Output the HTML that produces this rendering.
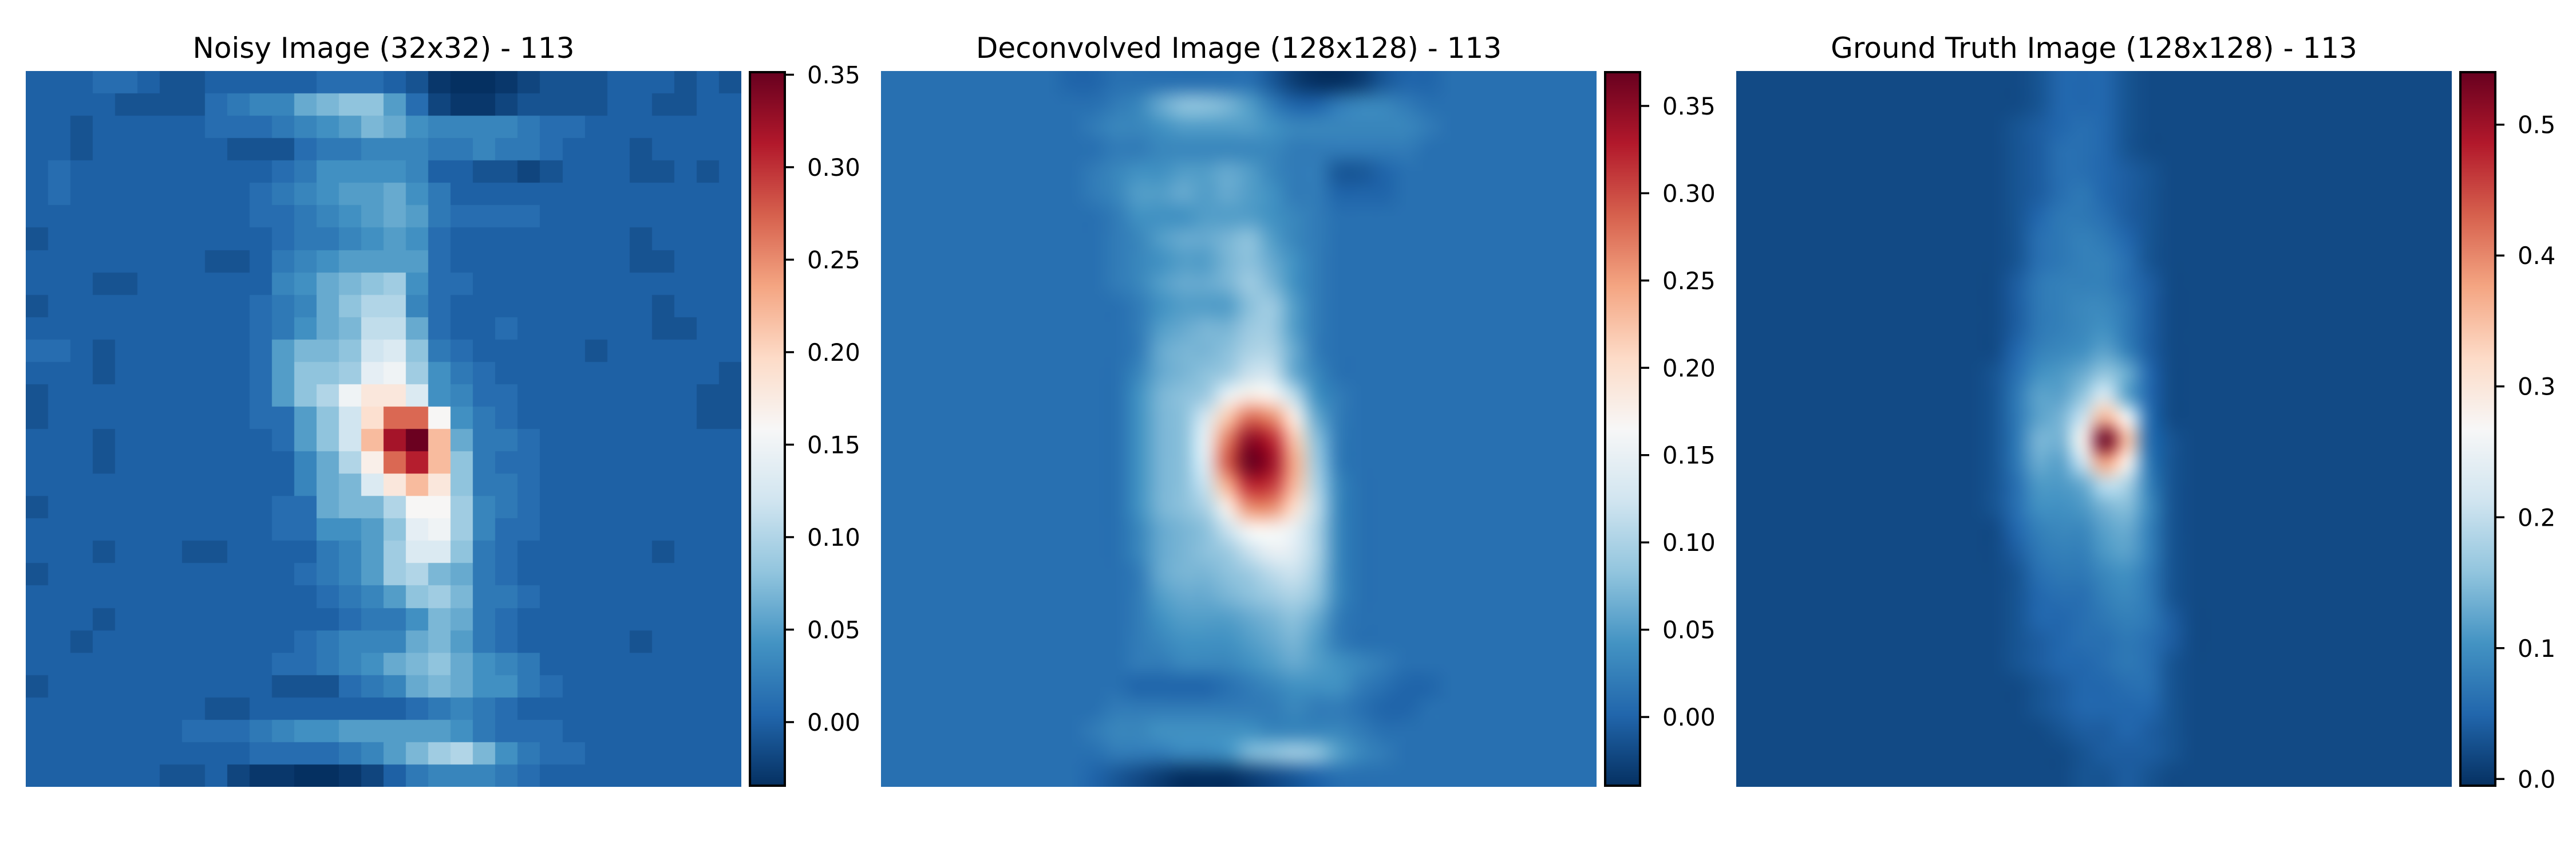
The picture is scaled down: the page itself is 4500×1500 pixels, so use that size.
<!DOCTYPE html>
<html><head><meta charset="utf-8">
<style>
html,body{margin:0;padding:0;background:#fff;}
#fig{position:relative;width:4500px;height:1500px;overflow:hidden;background:#fff;}
canvas{position:absolute;display:block;}
svg{position:absolute;left:0;top:0;}
text{font-family:"DejaVu Sans","Liberation Sans",sans-serif;fill:#000;}
</style></head>
<body>
<div id="fig">
<canvas id="img0" width="1250" height="1250" style="left:45px;top:124px"></canvas>
<canvas id="img1" width="1250" height="1250" style="left:1539px;top:124px"></canvas>
<canvas id="img2" width="1250" height="1250" style="left:3033px;top:124px"></canvas>
<canvas id="cb0" width="65" height="1250" style="left:1308px;top:124px"></canvas>
<canvas id="cb1" width="65" height="1250" style="left:2802px;top:124px"></canvas>
<canvas id="cb2" width="65" height="1250" style="left:4296px;top:124px"></canvas>
<svg id="ov" width="4500" height="1500">
<text x="670" y="101" font-size="50" text-anchor="middle">Noisy Image (32x32) - 113</text>
<text x="2164" y="101" font-size="50" text-anchor="middle">Deconvolved Image (128x128) - 113</text>
<text x="3658" y="101" font-size="50" text-anchor="middle">Ground Truth Image (128x128) - 113</text>
</svg>
</div>
<script>
// Encoded heatmap rows: value = (charCode - 48) * 0.01 - 0.04
const noisyRows = [
"4445543344444555" + "4310012333444343",
"4444333356 77:;<<".replace(" ","").slice(0,16) + "9521123333443344",
"443444445556789;" + ":877776554444444",
"4434444443335667" + "7766766544434444",
"4544444444456888" + "8744332344433434",
"4544444444567899" + ":864444444444444",
"4444444444556789" + ":965555444444444",
"3444444444456678" + "9854444444434444",
"4444444433467899" + "9954444444433444",
"4443344444478:;<" + "=855444444444444",
"344444444456 7:<>".replace(" ","").slice(0,16) + ">754444444443444",
"4444444444568:;?" + "?:54454444443344",
"554344444459;;<@" + "A<65444443444444",
"444344444459<<=B" + "C=86544444444443",
"344444444459<>CF" + "FA87554444444433",
"3444444444559<@G" + "OOD8654444444433",
"4443444444459<@J" + "TWJ:665444444444",
"4443444444447:>E" + "OSJ<655444444444",
"4444444444447:;A" + "FJF<665444444444",
"344444444445 5:;;".replace(" ","").slice(0,16) + ">DD=765444444444",
"4444444444455889" + "<BC=755444444444",
"4443444334444679" + "=AA<654444443444",
"3444444444445679" + "=>;:654444444444",
"4444444444444567" + "9<=;665444444444",
"4443444444444456" + "68;:654444444444",
"4434444444445677" + "7:;9654444434444",
"4444444444455678" + ":;<:876444444444",
"3444444444433356" + "7:;:886544444444",
"4444444433444444" + "4567654444444444",
"4444444555678899" + "9998655544444444",
"4444444444555567" + "9;=>;86554444444",
"4444443342110012" + "4677765444444444"
];
const deconvRows = [
"5555555544555555" + "5310013445555555",
"555555555567:<<;" + "9644677655555555",
"5555555556778999" + "9877777765555555",
"5555555555667777" + "7766666655555555",
"555555555678899:" + "9766334555555555",
"5555555556799:9:" + "9866444555555555",
"5555555555688899" + "9876555555555555",
"555555555567 9::;".replace(" ","") .slice(0,16)+ "<976555555555555",
"555555555567899;" + "<:86555555555555",
"555555555567 9::;".replace(" ","").slice(0,16) + "=;86555555555555",
"5555555555568999" + "<=96555555555555",
"555555555556 9:;;".replace(" ","").slice(0,16) + "==96555555555555",
"555555555556:;;<" + ">>:6555555555555",
"555555555557:;<=" + "@@:7555555555555",
"555555555558;<=C" + "FE?8655555555555",
"555555555558;<AJ" + "PNF:655555555555",
"555555555558;<CO" + "WTJ<655555555555",
"555555555558;<BQ" + "YVL=655555555555",
"555555555558;<@L" + "TSK>755555555555",
"555555555558;<>F" + "NNH?755555555555",
"555555555557:;<@" + "EEC>755555555555",
"555555555557:;<=" + "@CB>755555555555",
"555555555556:;;<" + "=?@=755555555555",
"555555555556 9::;".replace(" ","").slice(0,16) + "<=><755555555555",
"5555555555568999" + ":;<:655555555555",
"5555555555567888" + "9:;9655555555555",
"5555555555566777" + "89:9876555555555",
"5555555555544445" + "6788865445555555",
"5555555555666666" + "6676654455555555",
"5555555556778888" + "8777765555555555",
"5555555555666778" + ";<=<976555555555",
"5555555554321000" + "1234555555555555"
];
const truthRows = [
"6666666666666799" + "9766666666666666",
"6666666666666799" + "9766666666666666",
"666666666666789:" + "9766666666666666",
"66666666666678::" + "9766666666666666",
"66666666666678::" + "9876666666666666",
"66666666666678:;" + "9876666666666666",
"66666666666679;;" + ":876666666666666",
"6666666666667:;<" + ";976666666666666",
"6666666666667:;<" + "<:76666666666666",
"6666666666668;<<" + "<:86666666666666",
"6666666666668;<=" + "=;86666666666666",
"6666666666668;<=" + ">;86666666666666",
"6666666666669<=>" + "@<86666666666666",
"666666666667:>?A" + "DA96666666666666",
"666666666667;@@D" + "K@96666666666666",
"666666666667;@BI" + "XN:6666666666666",
"666666666667;BBP" + "jW:7666666666666",
"666666666667;A@I" + "ZP;7666666666666",
"666666666667:??A" + "HF<7666666666666",
"666666666667:>>?" + "BC=7666666666666",
"6666666666669<==" + "@A<7666666666666",
"6666666666668;<<" + "?@<7666666666666",
"6666666666667:;;" + "=>;7666666666666",
"66666666666679::" + "<=;7666666666666",
"666666666666799:" + ";<;8666666666666",
"666666666666789:" + ":;:8666666666666",
"6666666666667899" + ":;:7666666666666",
"6666666666666789" + "9::7666666666666",
"6666666666666789" + "9997666666666666",
"6666666666666678" + "8987666666666666",
"6666666666666667" + "8887666666666666",
"6666666666666667" + "7876666666666666"
];
const noisyRange = [-0.035, 0.352];
const deconvRange = [-0.040, 0.370];
const truthRange = [-0.006, 0.541];
const noisyTicks = [0.00, 0.05, 0.10, 0.15, 0.20, 0.25, 0.30, 0.35];
const noisyTickLabels = ["0.00","0.05","0.10","0.15","0.20","0.25","0.30","0.35"];
const deconvTicks = [0.00, 0.05, 0.10, 0.15, 0.20, 0.25, 0.30, 0.35];
const deconvTickLabels = ["0.00","0.05","0.10","0.15","0.20","0.25","0.30","0.35"];
const truthTicks = [0.0, 0.1, 0.2, 0.3, 0.4, 0.5];
const truthTickLabels = ["0.0","0.1","0.2","0.3","0.4","0.5"];

const STOPS = ["#053061","#2166ac","#4393c3","#92c5de","#d1e5f0","#f7f7f7","#fddbc7","#f4a582","#d6604d","#b2182b","#67001f"].map(h=>[parseInt(h.slice(1,3),16),parseInt(h.slice(3,5),16),parseInt(h.slice(5,7),16)]);
function cmap(f){
  f = Math.max(0, Math.min(1, f));
  const p = f*10, i = Math.min(9, Math.floor(p)), t = p - i;
  const a = STOPS[i], b = STOPS[i+1];
  return [a[0]+(b[0]-a[0])*t, a[1]+(b[1]-a[1])*t, a[2]+(b[2]-a[2])*t];
}
function decode(rows){
  return rows.map(r => {
    const out = [];
    for (let i = 0; i < 32; i++) out.push((r.charCodeAt(i) - 48) * 0.01 - 0.04);
    return out;
  });
}
function drawHeat(id, rows, range, smooth){
  const grid = decode(rows);
  const n = grid.length, m = grid[0].length;
  const small = document.createElement('canvas');
  small.width = m; small.height = n;
  const sctx = small.getContext('2d');
  const img = sctx.createImageData(m, n);
  for (let r = 0; r < n; r++) for (let c = 0; c < m; c++) {
    const col = cmap((grid[r][c] - range[0]) / (range[1] - range[0]));
    const k = (r*m + c) * 4;
    img.data[k] = col[0]; img.data[k+1] = col[1]; img.data[k+2] = col[2]; img.data[k+3] = 255;
  }
  sctx.putImageData(img, 0, 0);
  const cv = document.getElementById(id);
  const ctx = cv.getContext('2d');
  if (smooth) {
    // upscale in two steps for a smoother result, padding edges
    const mid = document.createElement('canvas');
    mid.width = m*4; mid.height = n*4;
    const mctx = mid.getContext('2d');
    mctx.imageSmoothingEnabled = true;
    mctx.imageSmoothingQuality = 'high';
    mctx.drawImage(small, 0, 0, m*4, n*4);
    ctx.imageSmoothingEnabled = true;
    ctx.imageSmoothingQuality = 'high';
    ctx.drawImage(mid, 0, 0, cv.width, cv.height);
  } else {
    ctx.imageSmoothingEnabled = false;
    ctx.drawImage(small, 0, 0, cv.width, cv.height);
  }
}
function drawBar(id, range, ticks, labels, left){
  const cv = document.getElementById(id);
  const ctx = cv.getContext('2d');
  const H = cv.height, W = cv.width;
  for (let y = 0; y < H; y++) {
    const col = cmap(1 - y / (H - 1));
    ctx.fillStyle = 'rgb(' + Math.round(col[0]) + ',' + Math.round(col[1]) + ',' + Math.round(col[2]) + ')';
    ctx.fillRect(0, y, W, 1);
  }
  ctx.strokeStyle = '#000'; ctx.lineWidth = 4;
  ctx.strokeRect(2, 2, W - 4, H - 4);
  const svg = document.getElementById('ov');
  const NS = 'http://www.w3.org/2000/svg';
  const top = 124, bottom = 1374;
  const yOf = v => bottom - (v - range[0]) / (range[1] - range[0]) * (bottom - top);
  ticks.forEach((v, i) => {
    const y = yOf(v);
    const ln = document.createElementNS(NS, 'line');
    ln.setAttribute('x1', left + 65); ln.setAttribute('x2', left + 79);
    ln.setAttribute('y1', y); ln.setAttribute('y2', y);
    ln.setAttribute('stroke', '#000'); ln.setAttribute('stroke-width', '3.5');
    
    
    svg.appendChild(ln);
    const tx = document.createElementNS(NS, 'text');
    tx.setAttribute('x', left + 102); tx.setAttribute('y', y + 15);
    tx.setAttribute('font-size', '41.7');
    tx.textContent = labels[i];
    
    
    svg.appendChild(tx);
  });
}
drawHeat('img0', noisyRows, noisyRange, false);
drawHeat('img1', deconvRows, deconvRange, true);
drawHeat('img2', truthRows, truthRange, true);
drawBar('cb0', noisyRange, noisyTicks, noisyTickLabels, 1308);
drawBar('cb1', deconvRange, deconvTicks, deconvTickLabels, 2802);
drawBar('cb2', truthRange, truthTicks, truthTickLabels, 4296);
</script>
</body></html>
